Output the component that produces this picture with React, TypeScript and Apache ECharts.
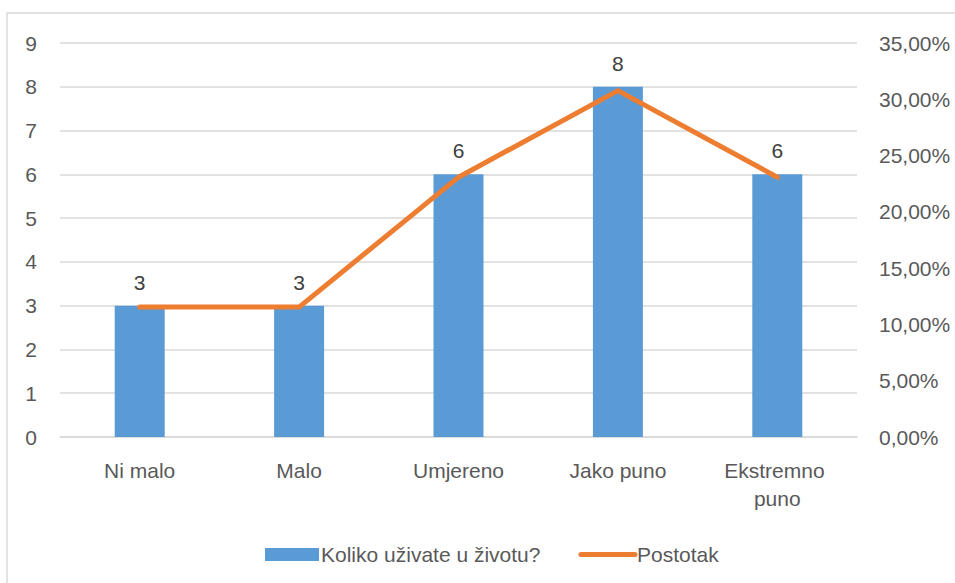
import React, { useEffect, useRef } from "react";
import * as echarts from "echarts";

const categories = ["Ni malo", "Malo", "Umjereno", "Jako puno", "Ekstremno puno"];
const counts = [3, 3, 6, 8, 6];
const percents = [0.1154, 0.1154, 0.2308, 0.3077, 0.2308];
const seriesNames = ["Koliko uživate u životu?", "Postotak"];

const FONT = "'Liberation Sans', Arial, sans-serif";
const TXT = "#595959";
const FS = 21;

export default function App() {
  const ref = useRef<HTMLDivElement>(null);
  useEffect(() => {
    if (!ref.current) return;
    const chart = echarts.init(ref.current, null, { renderer: "svg" });
    chart.setOption({
      animation: false,
      textStyle: { fontFamily: FONT },
      graphic: [
        {
          type: "rect",
          shape: { x: 7, y: 13, width: 1200, height: 1000 },
          style: { fill: "none", stroke: "#d9d9d9", lineWidth: 1.5 },
          silent: true,
        },
      ],
      grid: { left: 60, right: 98, top: 43, bottom: 146, containLabel: false },
      legend: {
        top: 539,
        left: 260,
        itemWidth: 54,
        itemHeight: 13,
        itemGap: 38,
        textStyle: { fontSize: FS, color: TXT, fontFamily: FONT, padding: [0, 0, 0, -3] },
        lineStyle: { width: 5, cap: "round" },
        data: [
          { name: seriesNames[0], icon: "rect" },
          {
            name: seriesNames[1],
            itemStyle: { opacity: 0, color: "transparent", borderWidth: 0 },
            lineStyle: { width: 5, color: "#ed7d31", opacity: 1, cap: "round" },
          },
        ],
      },
      xAxis: {
        type: "category",
        data: categories,
        axisLine: { lineStyle: { color: "#d9d9d9", width: 1.5 } },
        axisTick: { show: false },
        axisLabel: {
          interval: 0,
          color: TXT,
          fontSize: FS,
          fontFamily: FONT,
          margin: 19,
          width: 130,
          overflow: "break",
          lineHeight: 28,
        },
      },
      yAxis: [
        {
          type: "value",
          min: 0,
          max: 9,
          interval: 1,
          axisLine: { show: false },
          axisTick: { show: false },
          splitLine: { lineStyle: { color: "#d9d9d9", width: 1.5 } },
          axisLabel: { color: TXT, fontSize: FS, fontFamily: FONT, margin: 23 },
        },
        {
          type: "value",
          min: 0,
          max: 0.35,
          interval: 0.05,
          axisLine: { show: false },
          axisTick: { show: false },
          splitLine: { show: false },
          axisLabel: {
            color: TXT,
            fontSize: FS,
            fontFamily: FONT,
            margin: 22,
            formatter: (v: number) => (v * 100).toFixed(2).replace(".", ",") + "%",
          },
        },
      ],
      series: [
        {
          name: seriesNames[0],
          type: "bar",
          data: counts,
          yAxisIndex: 0,
          barWidth: 50,
          itemStyle: { color: "#5b9bd5" },
          label: {
            show: true,
            position: "top",
            distance: 13,
            color: "#404040",
            fontSize: FS,
            fontFamily: FONT,
          },
        },
        {
          name: seriesNames[1],
          type: "line",
          data: percents,
          yAxisIndex: 1,
          symbol: "none",
          lineStyle: { color: "#ed7d31", width: 5, cap: "round", join: "round" },
          itemStyle: { color: "#ed7d31" },
        },
      ],
    });
    return () => chart.dispose();
  }, []);
  return (
    <div
      ref={ref}
      style={{ position: "fixed", left: 0, top: 0, width: 955, height: 583, background: "#fff" }}
    />
  );
}
